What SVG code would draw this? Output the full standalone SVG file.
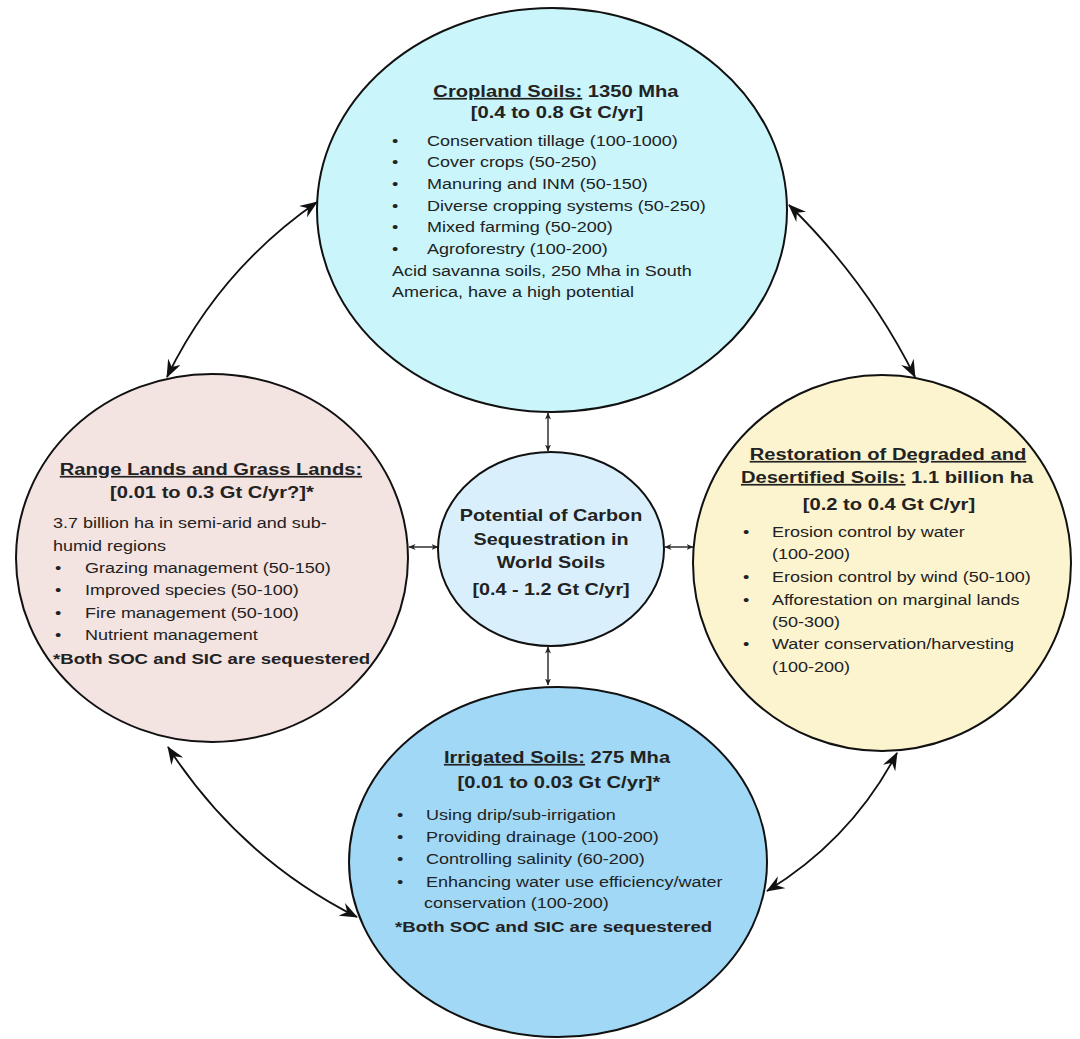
<svg xmlns="http://www.w3.org/2000/svg" width="1080" height="1039" viewBox="0 0 1080 1039">
<defs>
<style>
.node{stroke:#111;stroke-width:2}
.t{font-family:"Liberation Sans",Arial,sans-serif;fill:#222}
.b{font-size:15px}
.h{font-size:16.8px;font-weight:bold}
.f{font-size:15.5px;font-weight:bold}
.c{font-size:16.5px;font-weight:bold}
.m{text-anchor:middle}
.u{text-decoration:underline}
.con{fill:none;stroke:#111;stroke-width:1.8}
.sc{fill:none;stroke:#222;stroke-width:1.4}
</style>
<marker id="ah" viewBox="0 0 18 14" markerWidth="18" markerHeight="14" refX="17" refY="7" orient="auto-start-reverse" markerUnits="userSpaceOnUse">
<path d="M0,0 L18,7 L0,14 L6,7 Z" fill="#111"/>
</marker>
<marker id="as" viewBox="0 0 7 6" markerWidth="7" markerHeight="6" refX="6.5" refY="3" orient="auto-start-reverse" markerUnits="userSpaceOnUse">
<path d="M0,0 L7,3 L0,6 L2,3 Z" fill="#222"/>
</marker>
</defs>
<rect width="1080" height="1039" fill="#fff"/>

<g id="connectors">
<path class="con" d="M317,202 Q219,270 167,377" marker-start="url(#ah)" marker-end="url(#ah)"/>
<path class="con" d="M168,747 Q240,858 357,917" marker-start="url(#ah)" marker-end="url(#ah)"/>
<path class="con" d="M789,205 Q867,281 915,377" marker-start="url(#ah)" marker-end="url(#ah)"/>
<path class="con" d="M897,753 Q851,840 767,891" marker-start="url(#ah)" marker-end="url(#ah)"/>
<line class="sc" x1="548" y1="413" x2="548" y2="451" marker-start="url(#as)" marker-end="url(#as)"/>
<line class="sc" x1="548" y1="647" x2="548" y2="685" marker-start="url(#as)" marker-end="url(#as)"/>
<line class="sc" x1="409" y1="547" x2="438" y2="547" marker-start="url(#as)" marker-end="url(#as)"/>
<line class="sc" x1="665" y1="547" x2="693" y2="547" marker-start="url(#as)" marker-end="url(#as)"/>
</g>

<g id="cropland">
<ellipse class="node" cx="552" cy="210" rx="235" ry="202" fill="#c9f5fb"/>
<g class="t" transform="scale(1.2,1)">
<text class="h m" x="463.3" y="97"><tspan class="u">Cropland Soils:</tspan> 1350 Mha</text>
<text class="h m" x="464.2" y="118">[0.4 to 0.8 Gt C/yr]</text>
<g class="b">
<text x="326.7" y="146">•</text><text x="355.8" y="146">Conservation tillage (100-1000)</text>
<text x="326.7" y="167.5">•</text><text x="355.8" y="167.5">Cover crops (50-250)</text>
<text x="326.7" y="189">•</text><text x="355.8" y="189">Manuring and INM (50-150)</text>
<text x="326.7" y="211">•</text><text x="355.8" y="211">Diverse cropping systems (50-250)</text>
<text x="326.7" y="232.5">•</text><text x="355.8" y="232.5">Mixed farming (50-200)</text>
<text x="326.7" y="254">•</text><text x="355.8" y="254">Agroforestry (100-200)</text>
<text x="326.7" y="276">Acid savanna soils, 250 Mha in South</text>
<text x="326.7" y="297.5">America, have a high potential</text>
</g>
</g>
</g>

<g id="rangelands">
<ellipse class="node" cx="212" cy="558" rx="196" ry="184" fill="#f3e3e1"/>
<g class="t" transform="scale(1.2,1)">
<text class="h m u" x="175.8" y="475">Range Lands and Grass Lands:</text>
<text class="h m" x="176.7" y="498">[0.01 to 0.3 Gt C/yr?]*</text>
<g class="b">
<text x="44.2" y="528">3.7 billion ha in semi-arid and sub-</text>
<text x="44.2" y="551">humid regions</text>
<text x="45.8" y="573">•</text><text x="70.8" y="573">Grazing management (50-150)</text>
<text x="45.8" y="595">•</text><text x="70.8" y="595">Improved species (50-100)</text>
<text x="45.8" y="618">•</text><text x="70.8" y="618">Fire management (50-100)</text>
<text x="45.8" y="640">•</text><text x="70.8" y="640">Nutrient management</text>
</g>
<text class="f" x="44.2" y="664">*Both SOC and SIC are sequestered</text>
</g>
</g>

<g id="restoration">
<ellipse class="node" cx="882" cy="563" rx="189" ry="188" fill="#fcf3cf"/>
<g class="t" transform="scale(1.2,1)">
<text class="h m u" x="740" y="460">Restoration of Degraded and</text>
<text class="h m" x="739.2" y="483"><tspan class="u">Desertified Soils:</tspan> 1.1 billion ha</text>
<text class="h m" x="740.8" y="510">[0.2 to 0.4 Gt C/yr]</text>
<g class="b">
<text x="619.2" y="537">•</text><text x="643.3" y="537">Erosion control by water</text>
<text x="643.3" y="559">(100-200)</text>
<text x="619.2" y="582">•</text><text x="643.3" y="582">Erosion control by wind (50-100)</text>
<text x="619.2" y="605">•</text><text x="643.3" y="605">Afforestation on marginal lands</text>
<text x="643.3" y="627">(50-300)</text>
<text x="619.2" y="649">•</text><text x="643.3" y="649">Water conservation/harvesting</text>
<text x="643.3" y="672">(100-200)</text>
</g>
</g>
</g>

<g id="irrigated">
<ellipse class="node" cx="558" cy="862" rx="209" ry="175" fill="#a0d8f6"/>
<g class="t" transform="scale(1.2,1)">
<text class="h m" x="464.2" y="763"><tspan class="u">Irrigated Soils:</tspan> 275 Mha</text>
<text class="h m" x="465.8" y="788">[0.01 to 0.03 Gt C/yr]*</text>
<g class="b">
<text x="330.8" y="820">•</text><text x="355" y="820">Using drip/sub-irrigation</text>
<text x="330.8" y="842">•</text><text x="355" y="842">Providing drainage (100-200)</text>
<text x="330.8" y="864">•</text><text x="355" y="864">Controlling salinity (60-200)</text>
<text x="330.8" y="887">•</text><text x="355" y="887">Enhancing water use efficiency/water</text>
<text x="353.3" y="908">conservation (100-200)</text>
</g>
<text class="f" x="329.2" y="932">*Both SOC and SIC are sequestered</text>
</g>
</g>

<g id="center">
<ellipse class="node" cx="551" cy="549" rx="113" ry="97" fill="#d9f0fc"/>
<g class="t c m" transform="scale(1.2,1)">
<text x="459.2" y="521">Potential of Carbon</text>
<text x="459.2" y="545">Sequestration in</text>
<text x="459.2" y="568">World Soils</text>
<text x="459.2" y="595">[0.4 - 1.2 Gt C/yr]</text>
</g>
</g>
</svg>
